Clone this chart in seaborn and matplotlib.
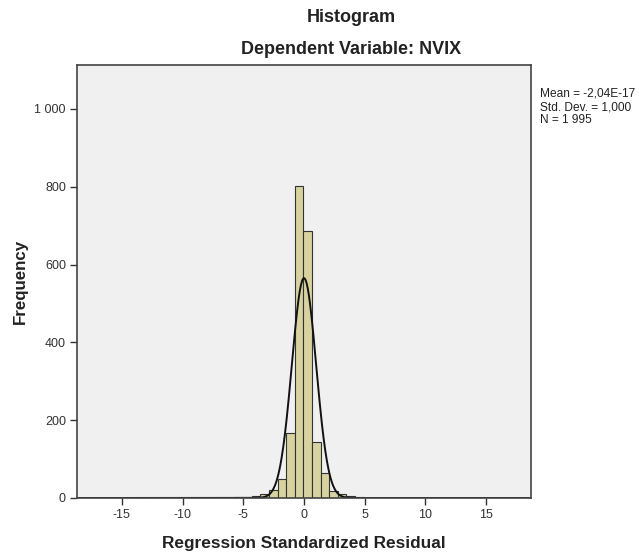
import numpy as np
import pandas as pd
import matplotlib
matplotlib.use("Agg")
import matplotlib.pyplot as plt
import seaborn as sns

# ---- data ----
bin_width = 0.71
bin_start = -18.51
n_bins = 52
bin_centers = [-11.6, -10.2, -7.4, -6.7, -5.3, -4.6, -3.9, -3.2, -2.5, -1.8, -1.1,
               -0.4, 0.3, 1.0, 1.7, 2.4, 3.1, 3.8, 4.5, 5.9, 7.3, 9.4, 12.2]
counts = [1, 1, 1, 1, 2, 2, 4, 10, 20, 50, 168,
          802, 686, 145, 65, 18, 9, 4, 2, 1, 1, 1, 1]
mean_val = 0.0
std_val = 1.0
n_total = 1995
x_ticks = [-15, -10, -5, 0, 5, 10, 15]
y_ticks = [0, 200, 400, 600, 800, 1000]
y_tick_labels = ["0", "200", "400", "600", "800", "1 000"]
stats_text = "Mean = -2,04E-17\nStd. Dev. = 1,000\nN = 1 995"

sns.set_theme(style="white")
plt.rcParams['font.family'] = ['Liberation Sans', 'DejaVu Sans']

fig = plt.figure(figsize=(6.39, 5.56), dpi=100)
ax = fig.add_axes([77/639, 1-498/556, (531-77)/639, (498-65)/556])
ax.set_facecolor("#f0f0f0")

df = pd.DataFrame({"x": bin_centers, "w": counts})
edges = [float(bin_start + bin_width * i) for i in range(n_bins + 1)]
sns.histplot(data=df, x="x", weights="w", bins=edges, ax=ax,
             color="#d8d29e", alpha=1.0, edgecolor="#333333", linewidth=0.8)

xs = np.linspace(-18.7, 18.7, 800)
ys = n_total * bin_width * np.exp(-0.5 * ((xs - mean_val) / std_val) ** 2) / (std_val * np.sqrt(2 * np.pi))
sns.lineplot(x=xs, y=ys, ax=ax, color="#111111", linewidth=1.4)

ax.set_xlim(-18.7, 18.7)
ax.set_ylim(0, 1113)
ax.set_xticks(x_ticks)
ax.set_xticklabels([str(t) for t in x_ticks])
ax.set_yticks(y_ticks)
ax.set_yticklabels(y_tick_labels)
ax.tick_params(axis="both", direction="out", length=5, width=1, color="#333333",
               labelsize=9, labelcolor="#333333", bottom=True, left=True, pad=3)
for s in ax.spines.values():
    s.set_color("#444444")
    s.set_linewidth(1.2)

ax.set_xlabel("Regression Standardized Residual", fontsize=12.4, fontweight="bold",
              color="#222222", labelpad=11)
ax.set_ylabel("Frequency", fontsize=12.2, fontweight="bold", color="#222222", labelpad=5)

fig.text(351/639, 1-17/556, "Histogram", ha="center", va="center",
         fontsize=13, fontweight="bold", color="#222222")
fig.text(351/639, 1-50/556, "Dependent Variable: NVIX", ha="center", va="center",
         fontsize=13, fontweight="bold", color="#222222")
fig.text(540/639, 1-88/556, stats_text, ha="left", va="top", fontsize=8.6,
         color="#222222", linespacing=1.12)

fig.savefig("out.png", dpi=100, facecolor="white")
